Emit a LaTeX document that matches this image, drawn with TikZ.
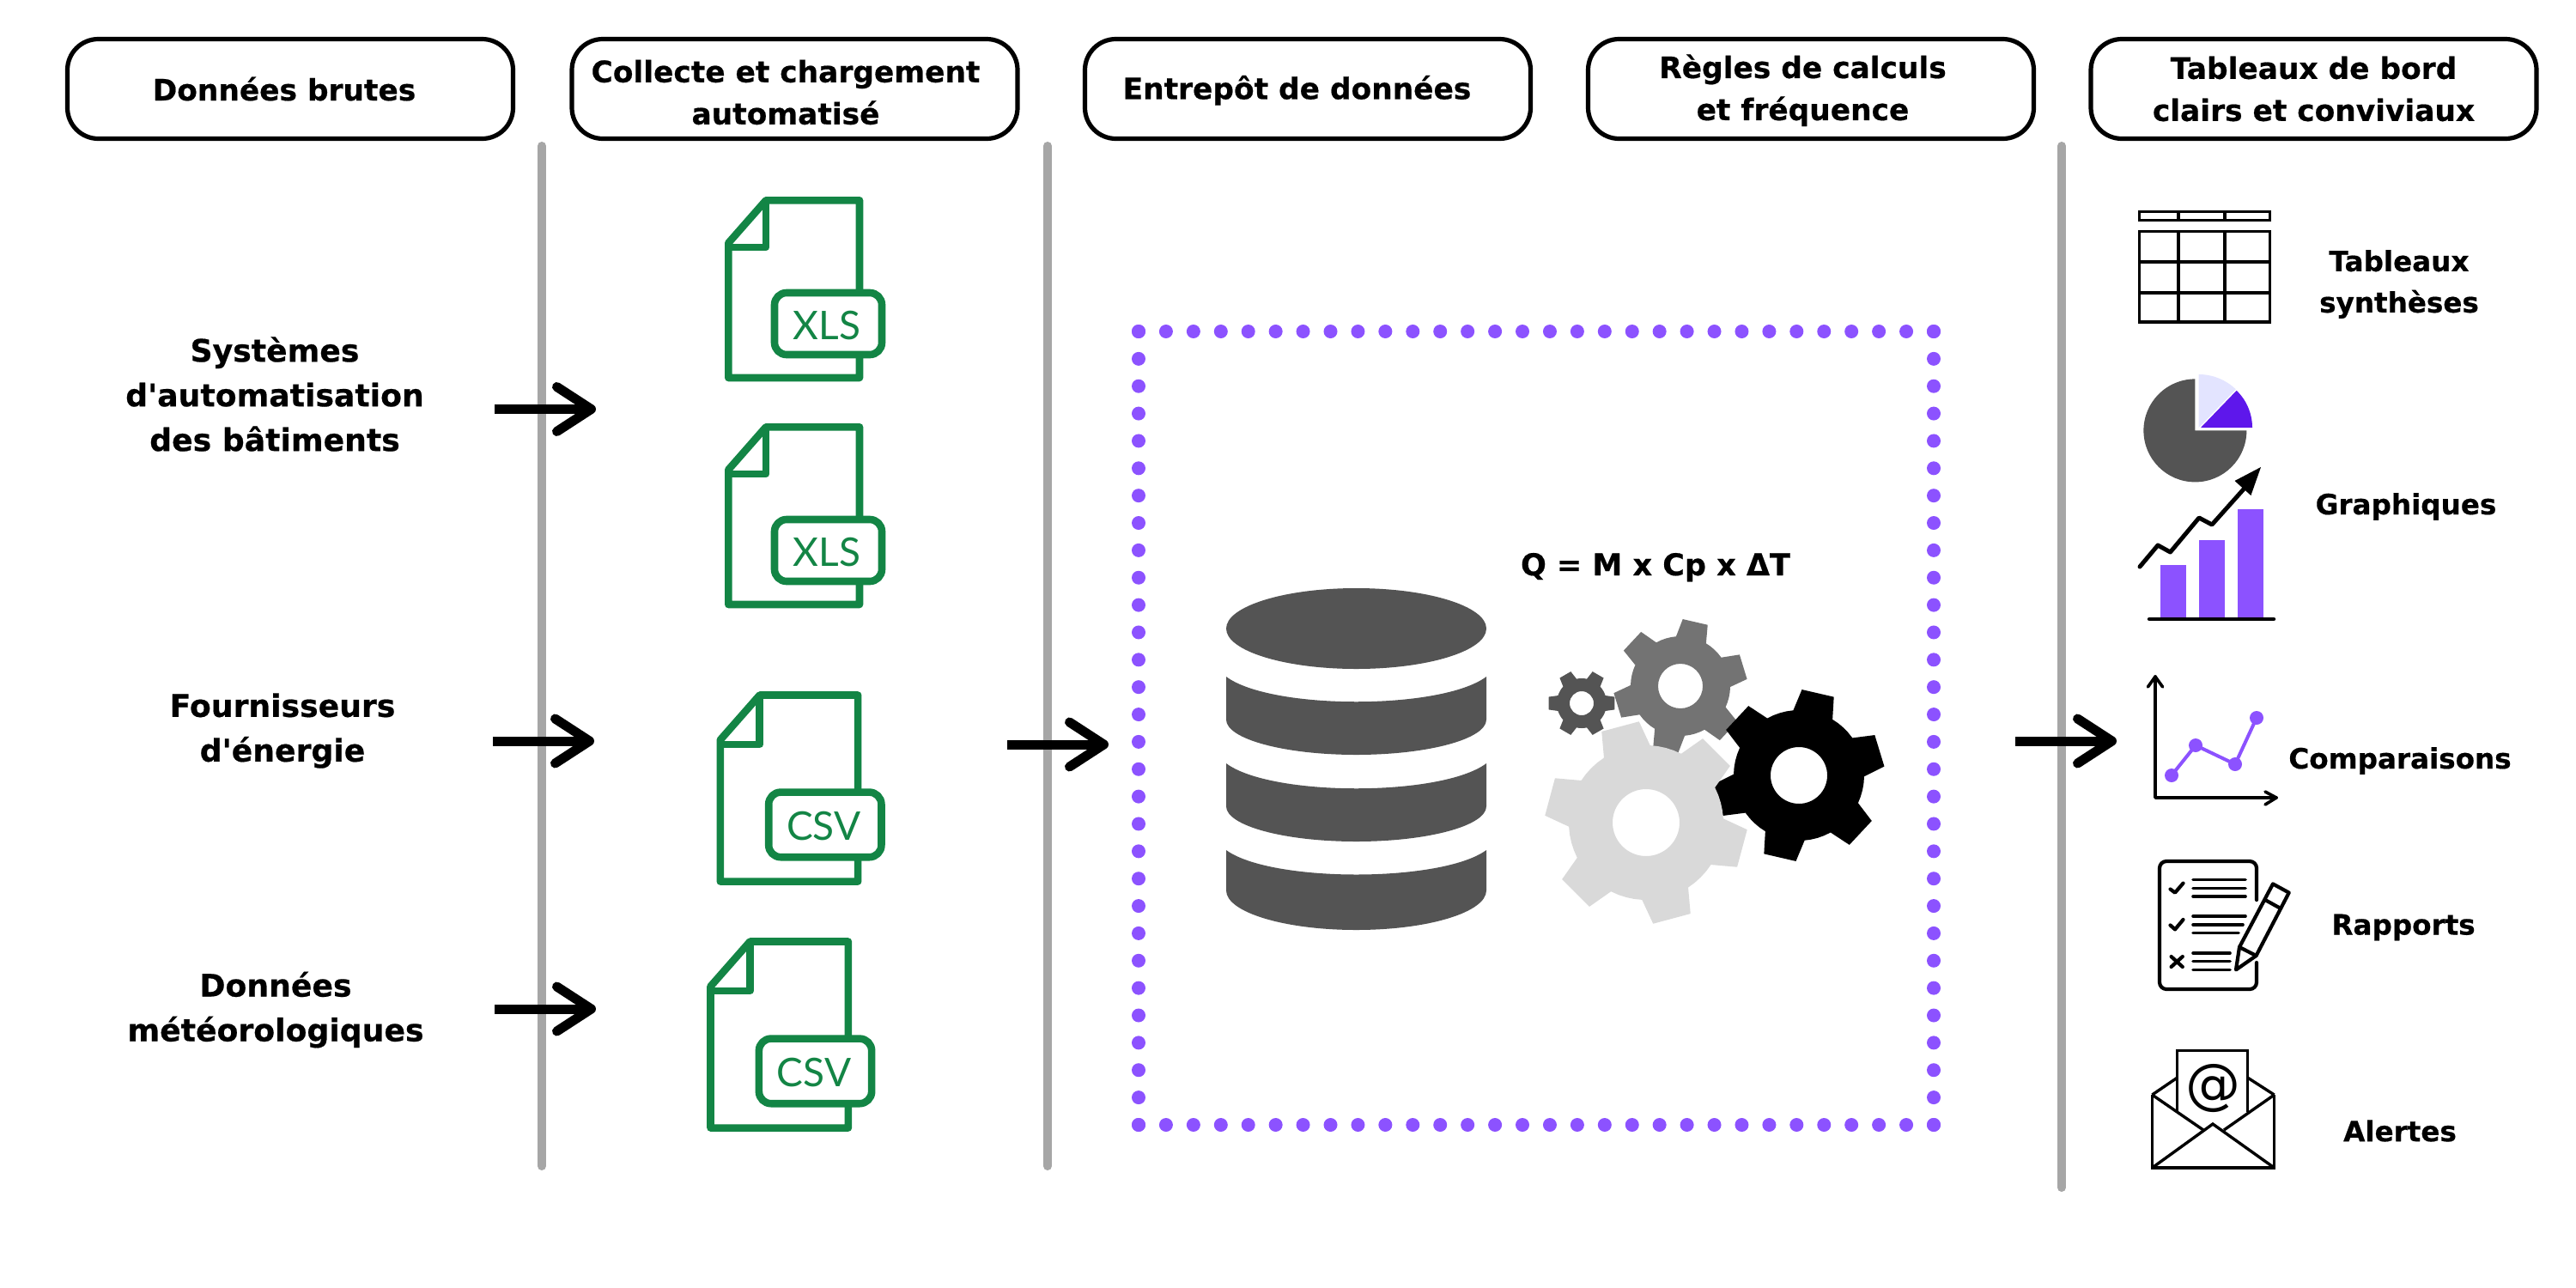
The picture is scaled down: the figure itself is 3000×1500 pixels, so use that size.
\documentclass[tikz,border=0pt]{standalone}
\usepackage{fontspec}
\setmainfont{DejaVu Sans}[Ligatures=TeXOff,BoldFeatures={FakeBold=0.5}]
\newfontfamily\filefont{Lato}
\usetikzlibrary{arrows.meta}
\definecolor{purp}{HTML}{8C52FF}
\definecolor{deep}{HTML}{5E17EB}
\definecolor{pale}{HTML}{E3E4FF}
\definecolor{slate}{HTML}{545454}
\definecolor{midgrey}{HTML}{737373}
\definecolor{lightgrey}{HTML}{D9D9D9}
\definecolor{sep}{HTML}{A6A6A6}
\definecolor{filegreen}{HTML}{138545}
\tikzset{
  headbox/.style={draw=black,line width=2.6pt,rounded corners=18pt,fill=white,minimum width=259.5pt,minimum height=58pt,inner sep=0pt,align=center,font=\fontsize{17.2}{24.5}\selectfont\bfseries},
  sidelabel/.style={inner sep=0pt,align=center,font=\fontsize{18.1}{26}\selectfont\bfseries},
  iconlabel/.style={inner sep=0pt,align=center,font=\fontsize{16.3}{24}\selectfont\bfseries},
  separator/.style={draw=sep,line width=5pt,line cap=round},
  flowarrow/.style={draw=black,line width=5.5pt,-{Straight Barb[length=20pt,width=26pt,round]}},
  fileline/.style={draw=filegreen,line width=4.3pt,line join=round},
  iconline/.style={draw=black,line width=1.7pt,line join=miter},
  roundline/.style={draw=black,line width=2.1pt,line cap=round,line join=round}
}
\newcommand\fileicon[5]{%
  \begin{scope}[shift={(#1,#2)},scale=#3]
    \draw[fileline] (4.3,54) -- (48,4.3) -- (157,4.3) -- (157,211) -- (4.3,211) -- cycle;
    \draw[fileline] (48,4.3) -- (48,59) -- (4.3,59);
    \draw[fileline,fill=white,rounded corners=7pt] (58,112) rectangle (183,184);
    \node[text=filegreen,inner sep=0pt,font=\fontsize{23}{23}\selectfont\filefont] (#5) at (119,150) {#4};
  \end{scope}}
\newcommand\gearicon[7]{%
  \begin{scope}[shift={(#1,#2)}]
    \fill[#7,even odd rule] (-#6-18:#3)
      \foreach \gi [evaluate=\gi as \ga using -#6+60*\gi] in {0,...,5}{
        -- (\ga-11:#4) -- (\ga+11:#4) -- (\ga+18:#3) -- (\ga+24:#3) -- (\ga+30:#3) -- (\ga+36:#3) -- (\ga+42:#3)
      } -- cycle (0,0) circle[radius=#5];
  \end{scope}}
\begin{document}
\begin{tikzpicture}[x=0.5pt,y=-0.5pt]
\useasboundingbox (0,0) rectangle (3000,1500);
\fill[white] (0,0) rectangle (3000,1500);

% separators
\coordinate (s1a) at (631,170); \coordinate (s1b) at (631,1358);
\coordinate (s2a) at (1220,170); \coordinate (s2b) at (1220,1358);
\coordinate (s3a) at (2401,170); \coordinate (s3b) at (2401,1383);
\draw[separator] (s1a) -- (s1b);
\draw[separator] (s2a) -- (s2b);
\draw[separator] (s3a) -- (s3b);

% headers (trailing kerns set each line slightly left of the box centre, as printed)
\node[headbox] (h1) at (338,103.5) {Données brutes\hspace*{7pt}};
\node[headbox] (h2) at (925.5,103.5) {\rule{0pt}{17pt}Collecte et chargement\hspace*{10.5pt}\\automatisé\hspace*{10.5pt}};
\node[headbox] (h3) at (1523,103.5) {\rule{0pt}{15.5pt}Entrepôt de données\hspace*{12.5pt}};
\node[headbox] (h4) at (2109,103.5) {\rule{0pt}{15.5pt}Règles de calculs\hspace*{9.5pt}\\et fréquence\hspace*{9.5pt}};
\node[headbox] (h5) at (2694.5,103.5) {Tableaux de bord\\clairs et conviviaux};

% source labels
\node[sidelabel] (l1) at (320,459) {Systèmes\\d'automatisation\\des bâtiments};
\node[sidelabel] (l2) at (329,851) {Fournisseurs\\d'énergie};
\node[sidelabel] (l3) at (321,1176) {Données\\météorologiques};

% arrows
\coordinate (a1s) at (576,476.5); \coordinate (a1e) at (694,476.5);
\coordinate (a2s) at (574,863); \coordinate (a2e) at (692,863);
\coordinate (a3s) at (576,1175); \coordinate (a3e) at (694,1175);
\coordinate (a4s) at (1173,867); \coordinate (a4e) at (1291,867);
\coordinate (a5s) at (2347,863); \coordinate (a5e) at (2465,863);
\draw[flowarrow] (a1s) -- (a1e);
\draw[flowarrow] (a2s) -- (a2e);
\draw[flowarrow] (a3s) -- (a3e);
\draw[flowarrow] (a4s) -- (a4e);
\draw[flowarrow] (a5s) -- (a5e);

% files
\fileicon{844}{229}{1}{XLS}{f1}
\fileicon{844}{493}{1}{XLS}{f2}
\fileicon{834.3}{805}{1.05}{CSV}{f3}
\fileicon{823}{1092}{1.05}{CSV}{f4}

% dotted frame
\foreach \k in {0,...,29}{
  \fill[purp] ({1326+31.93*\k},386) circle[radius=8];
  \fill[purp] ({1326+31.93*\k},1310) circle[radius=8];
  \fill[purp] (1326,{386+31.86*\k}) circle[radius=8];
  \fill[purp] (2252,{386+31.86*\k}) circle[radius=8];
}

% database
\fill[slate] (1579.5,732) ellipse[x radius=151.5,y radius=47];
\foreach \top/\ctl/\low/\ry in {788/827/838/41,889/928/939/41,990/1028/1037/46}{
  \fill[slate] (1428,\top) .. controls (1480,\ctl) and (1679,\ctl) .. (1731,\top)
     -- (1731,\low) arc[start angle=0,end angle=180,x radius=151.5,y radius=\ry] -- cycle;
}

% formula
\node[inner sep=0pt,anchor=base,font=\fontsize{17.5}{20}\selectfont\bfseries] (formula) at (1928,670) {Q = M x Cp x ΔT};

% gears
\gearicon{1957}{799}{58}{78}{26}{17}{midgrey}
\gearicon{2095}{903}{76}{100}{33}{17}{black}
\gearicon{1917}{958}{90}{118}{39}{-15}{lightgrey}
\gearicon{1842}{819}{29}{39}{14}{0}{slate}

% table icon
\draw[iconline] (2491.5,246.5) rectangle (2643.5,256.5);
\draw[iconline] (2537,246.5) -- (2537,256.5) (2591,246.5) -- (2591,256.5);
\draw[iconline] (2491.5,269.5) rectangle (2643.5,375);
\draw[iconline] (2537,269.5) -- (2537,375) (2591,269.5) -- (2591,375);
\draw[iconline] (2491.5,305) -- (2643.5,305) (2491.5,341) -- (2643.5,341);
\node[iconlabel] (t1) at (2794,331) {Tableaux\\synthèses};

% pie
\fill[slate] (2556.4,501.4) -- ++(0,-60) arc[start angle=-90,end angle=-360,radius=60] -- cycle;
\fill[pale] (2560.7,498) -- ++(0,-62) arc[start angle=-90,end angle=-46,radius=62] -- cycle;
\fill[deep] (2563,498) -- ++(60,0) arc[start angle=0,end angle=-46,radius=60] -- cycle;

% bars
\fill[purp] (2516,658) rectangle (2546,719);
\fill[purp] (2561,629) rectangle (2591,719);
\fill[purp] (2606,593) rectangle (2636,719);
\draw[black,line width=2.2pt,line cap=round] (2503,721) -- (2648,721);
\draw[roundline,line width=2.5pt] (2492,660) -- (2513,635) -- (2527.5,643) -- (2561,603) -- (2576,611) -- (2618,564);
\fill[black] (2633,544) -- (2602.5,560) -- (2621.4,577) -- cycle;
\node[iconlabel] (t2) at (2802,590) {Graphiques};

% comparison
\draw[roundline,line width=1.8pt] (2510,788) -- (2510,929) -- (2651,929);
\draw[roundline,line width=1.8pt] (2501.4,800) -- (2510,788) -- (2518.6,800);
\draw[roundline,line width=1.8pt] (2638,922) -- (2651,929) -- (2638,937);
\draw[purp,line width=2pt] (2529,903) -- (2557,868) -- (2603,890) -- (2628,836);
\foreach \p in {(2529,903),(2557,868),(2603,890),(2628,836)}{\fill[purp] \p circle[radius=8];}
\node[iconlabel] (t3) at (2795,886) {Comparaisons};

% report
\draw[roundline,rounded corners=4pt] (2628,1048) -- (2628,1003) -- (2515,1003) -- (2515,1152) -- (2628,1152) -- (2628,1121);
\draw[roundline,line width=1.8pt] (2554,1024.5) -- (2615,1024.5) (2554,1034.3) -- (2615,1034.3) (2554,1044) -- (2615,1044);
\draw[roundline,line width=1.8pt] (2554,1067) -- (2615,1067) (2554,1077) -- (2612,1077) (2554,1086.5) -- (2607,1086.5);
\draw[roundline,line width=1.8pt] (2554,1110) -- (2597,1110) (2554,1119.6) -- (2597,1119.6) (2554,1129.4) -- (2597,1129.4);
\draw[roundline] (2527.5,1035.5) -- (2533,1039.6) -- (2542.5,1028.6);
\draw[roundline] (2527.5,1077.5) -- (2533,1082.4) -- (2542.5,1071);
\draw[roundline] (2528.6,1114) -- (2541.8,1126) (2528.6,1126) -- (2541.8,1114);
\draw[roundline] (2608,1103) -- (2647,1029.4) -- (2665.7,1039.6) -- (2627.5,1113) -- (2604,1129.4) -- cycle;
\draw[roundline] (2638,1048) -- (2656,1058);
\draw[roundline] (2608,1103) -- (2627.5,1113);
\node[iconlabel] (t4) at (2799,1080) {Rapports};

% envelope
\draw[iconline] (2506.4,1275) -- (2506.4,1360) -- (2648.6,1360) -- (2648.6,1275);
\draw[iconline] (2506.4,1275) -- (2535.7,1255) (2648.6,1275) -- (2617.5,1255);
\draw[iconline] (2535.7,1295) -- (2535.7,1223.7) -- (2617.5,1223.7) -- (2617.5,1295);
\draw[iconline] (2506.4,1275) -- (2566,1316) (2648.6,1275) -- (2590,1316);
\draw[iconline] (2506.4,1360) -- (2577,1309) -- (2648.6,1360);
\node[inner sep=0pt,font=\fontsize{32}{32}\selectfont] (at) at (2577,1268) {@};
\node[iconlabel] (t5) at (2795,1317) {Alertes};
\end{tikzpicture}
\end{document}
